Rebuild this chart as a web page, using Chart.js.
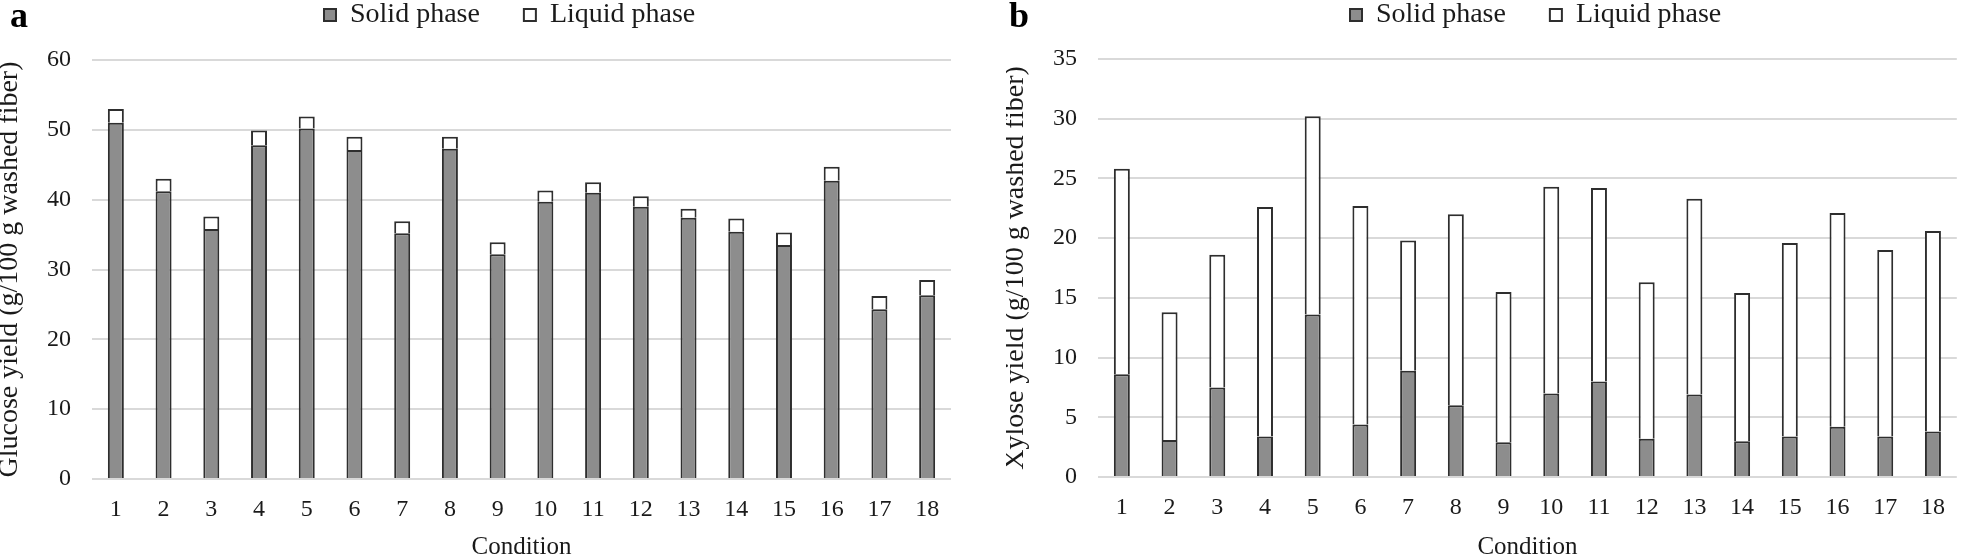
<!DOCTYPE html>
<html><head><meta charset="utf-8">
<script src="https://cdn.jsdelivr.net/npm/chart.js@4.4.1/dist/chart.umd.min.js"></script>
<style>
html,body{margin:0;padding:0;background:#fff;}
body{width:1961px;height:560px;position:relative;overflow:hidden;}
canvas{position:absolute;top:0;}
.lbl{position:absolute;font:bold 36px "Liberation Serif",serif;line-height:36px;color:#000;}
</style></head><body>
<canvas id="ca" width="1006" height="560" style="left:0"></canvas>
<canvas id="cb" width="955" height="560" style="left:1006px"></canvas>
<div class="lbl" style="left:10px;top:-3px">a</div>
<div class="lbl" style="left:1009px;top:-3px">b</div>
<script>
// ---- data ----
const conditions = ['1','2','3','4','5','6','7','8','9','10','11','12','13','14','15','16','17','18'];
const seriesNames = ['Solid phase', 'Liquid phase'];
const glucoseSolid  = [51.0, 41.2, 35.8, 47.8, 50.2, 47.1, 35.2, 47.3, 32.2, 39.7, 41.0, 39.0, 37.4, 35.4, 33.5, 42.7, 24.3, 26.3];
const glucoseLiquid = [2.0, 1.8, 1.8, 2.1, 1.7, 1.9, 1.7, 1.7, 1.7, 1.6, 1.5, 1.5, 1.3, 1.9, 1.8, 2.0, 1.9, 2.2];
const xyloseSolid   = [8.6, 3.1, 7.5, 3.4, 13.6, 4.4, 8.9, 6.0, 2.9, 7.0, 8.0, 3.2, 6.9, 3.0, 3.4, 4.2, 3.4, 3.8];
const xyloseLiquid  = [17.2, 10.7, 11.1, 19.2, 16.6, 18.3, 10.9, 16.0, 12.6, 17.3, 16.2, 13.1, 16.4, 12.4, 16.2, 17.9, 15.6, 16.8];
const glucoseAxis = {min: 0, max: 60, step: 10};
const xyloseAxis  = {min: 0, max: 35, step: 5};
const glucoseTitle = 'Glucose yield (g/100 g washed fiber)';
const xyloseTitle  = 'Xylose yield (g/100 g washed fiber)';
const xTitle = 'Condition';

// ---- styling ----
const FONT = "'Liberation Serif', 'Times New Roman', serif";
const INK = '#1a1a1a';
const GRID = '#d9d9d9';

const fixLayout = {
  id: 'fixLayout',
  beforeLayout(chart, args, opts) {
    const lg = chart.legend;
    if (lg && !lg._patched) {
      const f = lg.fit.bind(lg);
      lg.fit = function () { f(); this.height = opts.legendH; };
      lg._patched = true;
    }
  },
  afterLayout(chart, args, opts) {
    const lg = chart.legend;
    const pad = lg.options.labels.padding;
    lg.left = opts.legendX - pad; lg.right = chart.width;
    lg.top = opts.legendY - pad; lg.bottom = opts.legendH;
  }
};

function makeChart(id, solid, liquid, axis, yTitle, lay) {
  return new Chart(document.getElementById(id), {
    type: 'bar',
    data: {
      labels: conditions,
      datasets: [
        {label: seriesNames[0], data: solid, backgroundColor: '#8d8d8d', borderColor: '#2e2e2e', borderWidth: 2},
        {label: seriesNames[1], data: liquid, backgroundColor: '#ffffff', borderColor: '#2e2e2e', borderWidth: 2}
      ]
    },
    plugins: [fixLayout],
    options: {
      responsive: false,
      animation: false,
      devicePixelRatio: 1,
      layout: {padding: {left: 0, right: lay.padRight, top: 0, bottom: 0}},
      datasets: {bar: {categoryPercentage: 1, barPercentage: 0.335}},
      plugins: {
        fixLayout: {legendH: lay.top, legendX: lay.legendX, legendY: 1},
        tooltip: {enabled: false},
        legend: {
          position: 'top', align: 'start',
          labels: {boxWidth: 12, boxHeight: 12, padding: 44, color: INK, font: {family: FONT, size: 28}}
        }
      },
      scales: {
        x: {
          stacked: true,
          grid: {display: false, drawTicks: false},
          border: {display: false},
          ticks: {color: INK, padding: 16, font: {family: FONT, size: 24}, maxRotation: 0, autoSkip: false},
          title: {display: true, text: xTitle, color: INK, padding: 0, font: {family: FONT, size: 25, lineHeight: 1}},
          afterFit(s) { s.height = lay.xH; }
        },
        y: {
          stacked: true,
          min: axis.min, max: axis.max,
          grid: {color: GRID, lineWidth: 2, drawTicks: false},
          border: {display: false},
          ticks: {stepSize: axis.step, color: INK, padding: 21, font: {family: FONT, size: 24}},
          title: {display: true, text: yTitle, color: INK, padding: 0, font: {family: FONT, size: 28, lineHeight: 0.7}},
          afterFit(s) { s.width = 92; }
        }
      }
    }
  });
}

makeChart('ca', glucoseSolid, glucoseLiquid, glucoseAxis, glucoseTitle, {padRight: 55, top: 60, xH: 81, legendX: 324});
makeChart('cb', xyloseSolid, xyloseLiquid, xyloseAxis, xyloseTitle, {padRight: 2, top: 59, xH: 83, legendX: 344});
</script>
</body></html>
